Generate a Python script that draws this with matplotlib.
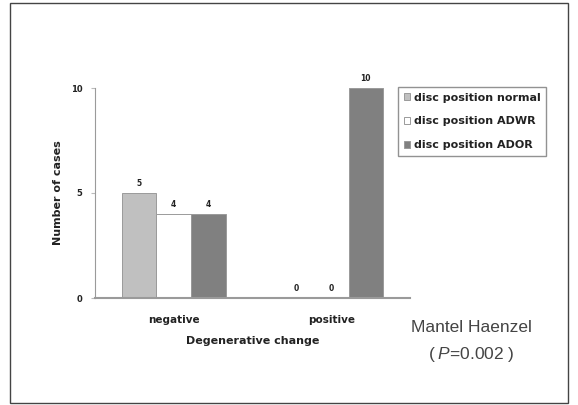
import numpy as np
import matplotlib
matplotlib.use("Agg")
import matplotlib.pyplot as plt
from matplotlib.patches import Rectangle

# data
groups = ["negative", "positive"]
series = ["disc position normal", "disc position ADWR", "disc position ADOR"]
normal = [5, 0]
adwr = [4, 0]
ador = [4, 10]
colors = ["#c0c0c0", "#ffffff", "#808080"]

plt.rcParams["mathtext.fontset"] = "custom"
plt.rcParams["mathtext.it"] = "Liberation Sans:italic"
plt.rcParams["mathtext.rm"] = "Liberation Sans"

fig = plt.figure(figsize=(5.78, 4.05), dpi=100)

# outer frame round the whole figure
fig.patches.append(Rectangle((10/578, 1-403/405), 558/578, 400/405,
                             transform=fig.transFigure, fill=False,
                             edgecolor="#444444", lw=1.0))

ax = fig.add_axes([95/578, 1-298/405, 315/578, 210/405])

x = np.arange(len(groups))
w = 0.22
for i, (vals, c, name) in enumerate(zip([normal, adwr, ador], colors, series)):
    pos = x + (i-1)*w
    bars = ax.bar(pos, vals, w, color=c, edgecolor="#9a9a9a", lw=0.7, label=name)
    for b, v in zip(bars, vals):
        ax.text(b.get_x()+b.get_width()/2, v+0.25, str(v), ha="center", va="bottom",
                fontsize=5.5, fontweight="bold", color="#222222")

ax.set_xlim(-0.5, 1.5)
ax.set_ylim(0, 10)
ax.set_yticks([0, 5, 10])
ax.set_xticks(x)
ax.set_xticklabels(groups)
for s in ["top", "right"]:
    ax.spines[s].set_visible(False)
ax.spines["left"].set_color("#9a9a9a")
ax.spines["bottom"].set_color("#9a9a9a")
ax.spines["bottom"].set_linewidth(1.5)
ax.tick_params(axis="y", length=3, color="#bbbbbb", labelsize=6, pad=6)
ax.tick_params(axis="x", length=0, labelsize=7.5, pad=12)
for lab in ax.get_yticklabels() + ax.get_xticklabels():
    lab.set_fontweight("bold")
    lab.set_color("#222222")

ax.set_ylabel("Number of cases", fontsize=8, fontweight="bold", color="#222222", labelpad=6)
ax.set_xlabel("Degenerative change", fontsize=8, fontweight="bold", color="#222222", labelpad=8)

leg = fig.legend(loc="upper left", bbox_to_anchor=(398/578, 1-87/405),
                 fontsize=8, frameon=True, fancybox=False, edgecolor="#777777",
                 handlelength=0.6, handleheight=0.6, handletextpad=0.3,
                 labelspacing=1.25, borderpad=0.5, borderaxespad=0)
for t in leg.get_texts():
    t.set_fontweight("bold")
    t.set_color("#222222")
leg.get_frame().set_linewidth(1.0)

fig.text(471/578, 1-327/405, "Mantel Haenzel", ha="center", va="center",
         fontsize=12.5, color="#444444", family="Liberation Sans")
fig.text(471/578, 1-355/405, "($\\;\\mathit{P}$=0.002$\\;$)", ha="center", va="center",
         fontsize=12.5, color="#444444", family="Liberation Sans")

fig.savefig("out.png", dpi=100)
